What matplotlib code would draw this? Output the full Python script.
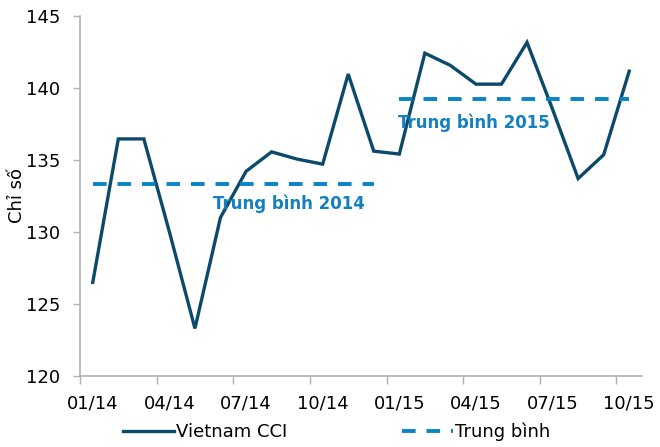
import matplotlib
matplotlib.use("Agg")
import matplotlib.pyplot as plt

# tháng 01/2014 - 10/2015
months = ["01/14", "02/14", "03/14", "04/14", "05/14", "06/14", "07/14", "08/14",
          "09/14", "10/14", "11/14", "12/14", "01/15", "02/15", "03/15", "04/15",
          "05/15", "06/15", "07/15", "08/15", "09/15", "10/15"]
cci = [126.5, 136.45, 136.45, 130.0, 123.3, 131.0, 134.2, 135.55, 135.05, 134.7, 140.95, 135.6,
       135.4, 142.4, 141.55, 140.25, 140.25, 143.15, 138.5, 133.7, 135.35, 141.15]
avg_2014 = 133.3
avg_2015 = 139.2
tick_labels = ["01/14", "04/14", "07/14", "10/14", "01/15", "04/15", "07/15", "10/15"]

navy = "#0c4a6c"
blue = "#0a84c6"
txt_blue = "#1480bf"
grey = "#b0b0b0"

plt.rcParams["font.family"] = ["DejaVu Sans"]

fig = plt.figure(figsize=(6.6, 4.47), dpi=100)
ax = fig.add_axes([0.1212, 0.1588, 0.8515, 0.8061])

x = list(range(len(months)))
ax.plot(x, cci, color=navy, lw=2.4, label="Vietnam CCI", solid_joinstyle="miter")

n14 = months.index("12/14") + 1
ax.plot([0, n14 - 1], [avg_2014, avg_2014], color=blue, lw=2.8, dashes=(3.5, 2.8),
        label="Trung bình")
ax.plot([n14, len(months) - 1], [avg_2015, avg_2015], color=blue, lw=2.8, dashes=(3.5, 2.8))

ax.text(7.66, avg_2014 - 1.38, "Trung bình 2014", color=txt_blue, fontsize=12,
        fontweight="bold", ha="center", va="center")
ax.text(14.9, avg_2015 - 1.62, "Trung bình 2015", color=txt_blue, fontsize=12,
        fontweight="bold", ha="center", va="center")

ax.set_xlim(-0.5, len(months) - 0.5)
ax.set_ylim(120, 145)
ax.set_yticks(range(120, 146, 5))

label_pos = [months.index(m) for m in tick_labels]
ax.set_xticks(label_pos)
ax.set_xticklabels(tick_labels)
ax.tick_params(axis="x", length=0, pad=13, labelsize=13)
ax.set_xticks([p - 0.5 for p in label_pos], minor=True)
ax.tick_params(axis="x", which="minor", length=6, width=1, color=grey)
ax.tick_params(axis="y", length=5, width=1, color=grey, pad=9, labelsize=13)

for s in ["top", "right"]:
    ax.spines[s].set_visible(False)
for s in ["left", "bottom"]:
    ax.spines[s].set_color(grey)
    ax.spines[s].set_linewidth(1.2)

ax.set_ylabel("Chỉ số", fontsize=13, labelpad=0)

fig.legend(loc="center", bbox_to_anchor=(0.51, 0.034), ncol=2, frameon=False,
           fontsize=13, handlelength=2.8, columnspacing=6.4, handletextpad=0.1)

fig.savefig("out.png", dpi=100)
